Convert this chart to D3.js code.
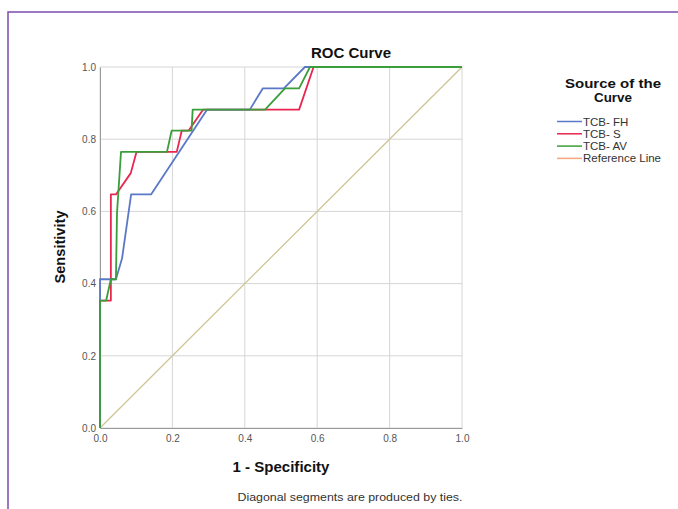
<!DOCTYPE html>
<html>
<head>
<meta charset="utf-8">
<script src="https://cdn.jsdelivr.net/npm/d3@7"></script>
<style>
  body { margin: 0; background: #fff; }
  svg { font-family: Arial, "Liberation Sans", sans-serif; }
</style>
</head>
<body>
<svg width="678" height="509"></svg>
<script>
// ROC points: [1 - specificity, sensitivity]
var fhPoints = [[0,0],[0,0.412],[0.044,0.412],[0.061,0.47],[0.086,0.647],[0.141,0.647],[0.296,0.882],[0.414,0.882],[0.45,0.941],[0.508,0.941],[0.566,1],[1,1]]
var sPoints = [[0,0],[0,0.353],[0.03,0.353],[0.03,0.647],[0.044,0.647],[0.085,0.706],[0.101,0.765],[0.212,0.765],[0.226,0.824],[0.245,0.824],[0.285,0.882],[0.55,0.882],[0.59,1],[1,1]]
var avPoints = [[0,0],[0,0.353],[0.017,0.353],[0.03,0.412],[0.044,0.412],[0.047,0.596],[0.058,0.765],[0.185,0.765],[0.198,0.824],[0.253,0.824],[0.256,0.882],[0.456,0.882],[0.511,0.941],[0.55,0.941],[0.58,1],[1,1]]
var refPoints = [[0,0],[1,1]]

var seriesNames = ["TCB- FH", "TCB- S", "TCB- AV", "Reference Line"]
var seriesColors = ["#5b78c8", "#e8264f", "#3a9e3a", "#f4a67c"]
var tickValues = [0, 0.2, 0.4, 0.6, 0.8, 1.0]

var margins = {top: 67, left: 100}
var width = 362
var height = 361

var svg = d3.select("svg")

// purple frame
svg.append("rect")
    .attr("x", 8).attr("y", 12)
    .attr("width", 680).attr("height", 510)
    .attr("fill", "none")
    .attr("stroke", "#7d4cae")
    .attr("stroke-width", 1.5)

var xScale = d3.scaleLinear().domain([0, 1]).range([0, width])
var yScale = d3.scaleLinear().domain([0, 1]).range([height, 0])

var graph = svg.append("g")
    .attr("transform", "translate(" + margins.left + "," + margins.top + ")")

// grid
graph.append("g")
    .selectAll("line.gx")
    .data(tickValues)
    .enter()
    .append("line")
    .attr("x1", function(d){ return xScale(d) })
    .attr("x2", function(d){ return xScale(d) })
    .attr("y1", 0).attr("y2", height)
    .attr("stroke", "#d6d6d6")
    .attr("stroke-width", 1)

graph.append("g")
    .selectAll("line.gy")
    .data(tickValues)
    .enter()
    .append("line")
    .attr("y1", function(d){ return yScale(d) })
    .attr("y2", function(d){ return yScale(d) })
    .attr("x1", 0).attr("x2", width)
    .attr("stroke", "#d6d6d6")
    .attr("stroke-width", 1)

var xAxis = d3.axisBottom(xScale).tickValues(tickValues).tickFormat(d3.format(".1f")).tickSize(0).tickPadding(7)
var yAxis = d3.axisLeft(yScale).tickValues(tickValues).tickFormat(d3.format(".1f")).tickSize(0).tickPadding(4)

graph.append("g")
    .attr("transform", "translate(0," + height + ")")
    .call(xAxis)
    .call(function(g){
        g.select(".domain").attr("stroke", "#9a9a9a")
        g.selectAll("text").attr("fill", "#555").attr("font-size", "10px")
    })

graph.append("g")
    .call(yAxis)
    .call(function(g){
        g.select(".domain").attr("stroke", "#9a9a9a")
        g.selectAll("text").attr("fill", "#555").attr("font-size", "10px")
    })

var line = d3.line()
    .x(function(d){ return xScale(d[0]) })
    .y(function(d){ return yScale(d[1]) })

// reference diagonal
graph.append("path")
    .datum(refPoints)
    .attr("d", line)
    .attr("fill", "none")
    .attr("stroke", "#cdc596")
    .attr("stroke-width", 1.3)

var curves = [fhPoints, sPoints, avPoints]
// draw red, blue, then green on top
var drawOrder = [1, 0, 2]
drawOrder.forEach(function(i){
    graph.append("path")
        .datum(curves[i])
        .attr("d", line)
        .attr("fill", "none")
        .attr("stroke", seriesColors[i])
        .attr("stroke-width", 1.8)
        .attr("stroke-linejoin", "round")
})

// titles (the original text is a little wider than Liberation, so stretch it)
svg.append("text")
    .text("ROC Curve")
    .attr("x", 351).attr("y", 58)
    .attr("text-anchor", "middle")
    .attr("font-size", "14px")
    .attr("font-weight", "bold")
    .attr("fill", "#111")
    .attr("textLength", 80)
    .attr("lengthAdjust", "spacingAndGlyphs")

svg.append("text")
    .text("Sensitivity")
    .attr("transform", "translate(65,247) rotate(-90)")
    .attr("text-anchor", "middle")
    .attr("font-size", "14px")
    .attr("font-weight", "bold")
    .attr("fill", "#111")
    .attr("textLength", 73)
    .attr("lengthAdjust", "spacingAndGlyphs")

svg.append("text")
    .text("1 - Specificity")
    .attr("x", 281).attr("y", 472)
    .attr("text-anchor", "middle")
    .attr("font-size", "14px")
    .attr("font-weight", "bold")
    .attr("fill", "#111")
    .attr("textLength", 97)
    .attr("lengthAdjust", "spacingAndGlyphs")

svg.append("text")
    .text("Diagonal segments are produced by ties.")
    .attr("x", 350).attr("y", 501)
    .attr("text-anchor", "middle")
    .attr("font-size", "11px")
    .attr("fill", "#333")
    .attr("textLength", 225)
    .attr("lengthAdjust", "spacingAndGlyphs")

// legend
var legend = svg.append("g")

legend.selectAll("text.head")
    .data(["Source of the", "Curve"])
    .enter()
    .append("text")
    .text(function(d){ return d })
    .attr("x", 613)
    .attr("y", function(d, i){ return 88 + i * 13.5 })
    .attr("text-anchor", "middle")
    .attr("font-size", "12.5px")
    .attr("font-weight", "bold")
    .attr("fill", "#111")
    .attr("textLength", function(d, i){ return i == 0 ? 96 : 38 })
    .attr("lengthAdjust", "spacingAndGlyphs")

var items = legend.selectAll("g.item")
    .data(seriesNames)
    .enter()
    .append("g")
    .attr("transform", function(d, i){ return "translate(557," + (121.5 + i * 12.3) + ")" })

items.append("line")
    .attr("x1", 0).attr("x2", 25)
    .attr("stroke", function(d, i){ return seriesColors[i] })
    .attr("stroke-width", 1.5)

items.append("text")
    .text(function(d){ return d })
    .attr("x", 26).attr("y", 4)
    .attr("font-size", "11.5px")
    .attr("fill", "#333")
</script>
</body>
</html>
